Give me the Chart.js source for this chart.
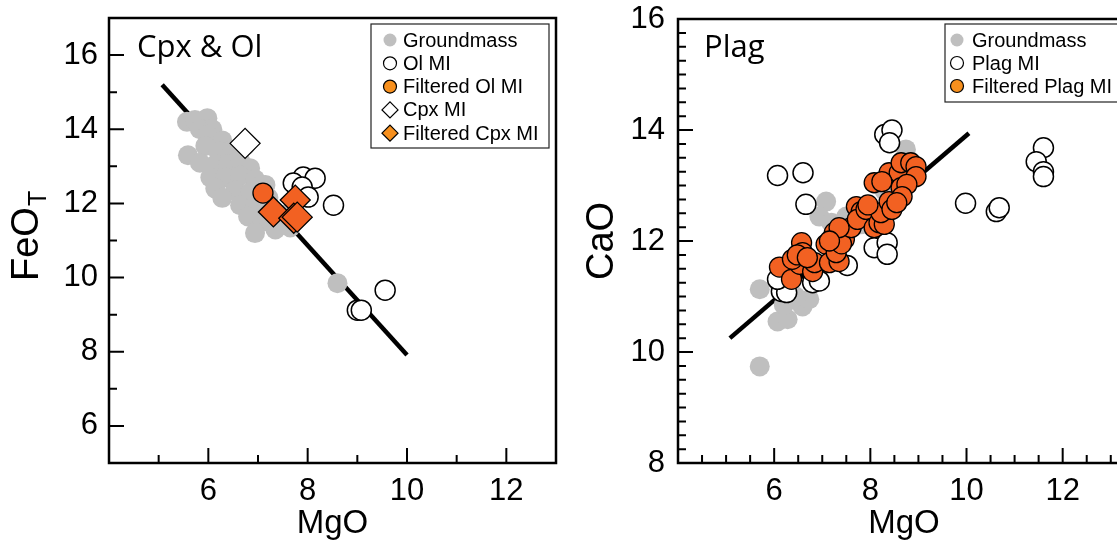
<!DOCTYPE html>
<html>
<head>
<meta charset="utf-8">
<script src="https://cdn.jsdelivr.net/npm/chart.js@4.4.1/dist/chart.umd.min.js"></script>
<style>
  html, body { margin: 0; padding: 0; background: #fff; overflow: hidden; }
  body { width: 1117px; height: 544px; position: relative; }
  canvas { position: absolute; top: 0; }
  #cpx { left: 0; }
  #plag { left: 580px; }
</style>
</head>
<body>
<canvas id="cpx" width="560" height="544"></canvas>
<canvas id="plag" width="554" height="544"></canvas>
<script>
// ---- Cpx & Ol panel: MgO vs FeO_T (wt%) ----
const cpxGroundmass = [
  [5.57, 14.2], [5.98, 14.3], [5.59, 13.3], [5.73, 14.25], [5.83, 14.0], [6.08, 14.0],
  [5.98, 13.85], [6.28, 13.7], [5.94, 13.55], [6.2, 13.4], [6.48, 13.45], [6.74, 13.55],
  [5.83, 13.1], [6.14, 13.05], [6.4, 13.05], [6.64, 13.15], [6.84, 12.95], [6.04, 12.7],
  [6.34, 12.7], [6.64, 12.75], [6.94, 12.65], [7.15, 12.5], [7.08, 12.5], [6.14, 12.4],
  [6.54, 12.35], [6.84, 12.3], [7.21, 12.15], [6.28, 12.15], [6.64, 11.95], [6.94, 11.95],
  [7.25, 11.8], [6.8, 11.65], [7.08, 11.5], [7.55, 11.7], [7.35, 11.3], [6.94, 11.2],
  [7.65, 11.35], [8.6, 9.85]
];
const olMI = [
  [7.91, 12.71], [8.15, 12.68], [7.71, 12.55], [7.89, 12.44], [8.01, 12.17], [8.52, 11.95],
  [9.56, 9.66], [9.0, 9.12], [9.08, 9.12]
];
const olMIFiltered = [[7.1, 12.28]];
const cpxMI = [[6.74, 13.62]];
const cpxMIFiltered = [[7.31, 11.77], [7.75, 12.09], [7.72, 11.6], [7.79, 11.63]];
const feTrend = [[5.07, 15.2], [10.0, 7.91]];

// ---- Plag panel: MgO vs CaO (wt%) ----
const plagGroundmass = [
  [5.7, 11.13], [5.7, 9.74], [6.07, 10.55], [6.28, 10.59], [6.59, 10.82], [6.73, 10.95],
  [6.07, 11.27], [6.45, 11.0], [6.2, 10.85], [7.08, 12.71], [7.5, 12.44], [6.94, 12.44],
  [7.19, 12.33], [7.62, 12.39], [8.74, 13.65], [7.8, 12.3], [8.3, 12.9], [7.35, 12.05]
];
const plagMI = [
  [6.07, 13.18], [6.6, 13.23], [6.66, 12.66], [8.3, 13.92], [8.45, 14.0], [8.4, 13.77],
  [9.98, 12.68], [10.62, 12.53], [10.68, 12.6], [11.6, 13.68], [11.45, 13.43], [11.6, 13.25],
  [11.6, 13.16], [8.08, 11.88], [8.35, 11.97], [8.35, 11.76], [7.52, 11.56], [6.8, 11.25],
  [6.15, 11.09], [6.26, 11.07], [6.07, 11.31], [6.94, 11.28]
];
const plagMIFiltered = [
  [6.11, 11.53], [6.36, 11.31], [6.53, 11.58], [6.38, 11.67], [6.57, 11.97], [6.59, 11.79],
  [6.8, 11.45], [6.84, 11.61], [6.48, 11.75], [6.69, 11.7], [7.08, 11.94], [7.15, 11.61],
  [7.35, 11.63], [7.29, 11.79], [7.25, 12.15], [7.46, 12.03], [7.4, 11.95], [7.6, 12.24],
  [7.35, 12.24], [7.15, 12.0], [7.71, 12.62], [7.81, 12.53], [7.73, 12.39], [7.91, 12.57],
  [8.08, 12.24], [8.18, 12.33], [8.29, 12.3], [8.22, 12.51], [8.39, 12.71], [8.45, 12.57],
  [8.08, 13.05], [8.39, 13.23], [8.6, 13.23], [8.64, 13.41], [8.84, 13.41], [8.95, 13.34],
  [8.95, 13.16], [8.64, 12.96], [8.76, 13.02], [8.66, 12.8], [8.55, 12.69], [8.24, 13.07],
  [7.95, 12.65]
];
const caTrend = [[5.08, 10.25], [10.05, 13.94]];

// tick labels
const mgoLabels = [6, 8, 10, 12];
const feoLabels = [6, 8, 10, 12, 14, 16];
const caoLabels = [8, 10, 12, 14, 16];

const GRAY = '#bfbfbf';
const ORANGE = '#f26122';
const ORANGE_KEY = '#f7901e';
const TICK_FONT = { family: '"Liberation Sans", Arial, sans-serif', size: 31 };

// frame, inward tick marks, panel label, inset legend and (optionally) a subscripted y title
const panelDecor = {
  id: 'panelDecor',
  afterDraw(chart, args, o) {
    const { ctx, chartArea: a, scales: { x, y } } = chart;
    ctx.save();

    ctx.strokeStyle = '#000';
    ctx.lineWidth = 2.5;
    ctx.strokeRect(a.left, a.top, a.right - a.left, a.bottom - a.top);

    ctx.lineWidth = 2;
    ctx.beginPath();
    for (let v = x.min + o.xStep; v < x.max - 1e-6; v += o.xStep) {
      const val = Math.round(v * 100) / 100;
      const px = x.getPixelForValue(val);
      const len = o.xMajor.includes(val) ? 15 : 8;
      ctx.moveTo(px, a.bottom);
      ctx.lineTo(px, a.bottom - len);
    }
    for (let v = y.min + o.yStep; v < y.max - 1e-6; v += o.yStep) {
      const val = Math.round(v * 100) / 100;
      const py = y.getPixelForValue(val);
      const len = o.yMajor.includes(val) ? 15 : 8;
      ctx.moveTo(a.left, py);
      ctx.lineTo(a.left + len, py);
    }
    ctx.stroke();

    // panel label
    ctx.fillStyle = '#000';
    ctx.font = '31px "Open Sans", sans-serif';
    ctx.textBaseline = 'alphabetic';
    ctx.textAlign = 'left';
    ctx.fillText(o.label, a.left + o.labelX, a.top + o.labelY);

    // inset legend
    const L = o.legend;
    const bx = a.left + L.x, by = a.top + L.y;
    ctx.fillStyle = '#fff';
    ctx.fillRect(bx, by, L.w, L.h);
    ctx.strokeStyle = '#222';
    ctx.lineWidth = 1.2;
    ctx.strokeRect(bx, by, L.w, L.h);
    ctx.font = '20px "Liberation Sans", Arial, sans-serif';
    ctx.textBaseline = 'middle';
    chart.data.datasets.filter(d => d.label).forEach((d, i) => {
      const cy = by + L.row0 + i * L.gap;
      ctx.fillStyle = d.keyColor || d.backgroundColor;
      ctx.strokeStyle = '#000';
      Chart.helpers.drawPoint(ctx, {
        pointStyle: d.pointStyle,
        radius: d.pointStyle === 'rectRot' ? 8 : 6.5,
        borderWidth: d.borderWidth ? 1 : 0
      }, bx + L.mark, cy);
      ctx.fillStyle = '#000';
      ctx.fillText(d.label, bx + L.text, cy + 1);
    });

    // FeO with subscript T, rotated
    if (o.yTitle) {
      const t = o.yTitle;
      ctx.translate(t.x, t.y);
      ctx.rotate(-Math.PI / 2);
      ctx.textBaseline = 'alphabetic';
      ctx.font = '38px "Liberation Sans", Arial, sans-serif';
      ctx.fillText(t.main, 0, 0);
      const w = ctx.measureText(t.main).width;
      ctx.font = '25px "Liberation Sans", Arial, sans-serif';
      ctx.fillText(t.sub, w + 1, 8);
    }
    ctx.restore();
  }
};

function xAxis(min, max, labels) {
  return {
    type: 'linear', min, max,
    afterBuildTicks: s => { s.ticks = labels.map(v => ({ value: v })); },
    afterFit: s => { s.height = 81; s.paddingLeft = 0; s.paddingRight = 0; },
    grid: { display: false, drawTicks: false },
    border: { display: false },
    ticks: { color: '#000', font: TICK_FONT, padding: 10, maxRotation: 0 },
    title: { display: true, text: 'MgO', color: '#000', padding: 0,
      font: { family: TICK_FONT.family, size: 33 } }
  };
}

function yAxis(min, max, labels, width, pad, title) {
  return {
    type: 'linear', min, max,
    afterBuildTicks: s => { s.ticks = labels.map(v => ({ value: v })); },
    afterFit: s => { s.width = width; s.paddingTop = 0; s.paddingBottom = 0; },
    grid: { display: false, drawTicks: false },
    border: { display: false },
    ticks: { color: '#000', font: TICK_FONT, padding: pad },
    title: title
      ? { display: true, text: title, color: '#000', padding: 0,
          font: { family: TICK_FONT.family, size: 38 } }
      : { display: false }
  };
}

function pointSet(label, data, style, fill, radius, order, extra) {
  return Object.assign({
    label, data, pointStyle: style, pointRadius: radius, pointHoverRadius: radius,
    backgroundColor: fill, borderColor: '#000', borderWidth: 1.3, order
  }, extra || {});
}

function trendLine(data) {
  return {
    label: '', data, showLine: true, borderColor: '#000', borderWidth: 4.5,
    pointRadius: 0, order: 9, borderCapStyle: 'butt'
  };
}

const common = {
  responsive: false,
  animation: false,
  events: [],
  plugins: { legend: { display: false }, tooltip: { enabled: false } }
};

new Chart(document.getElementById('cpx'), {
  type: 'scatter',
  data: {
    datasets: [
      pointSet('Groundmass', cpxGroundmass, 'circle', GRAY, 10, 6, { borderWidth: 0 }),
      pointSet('Ol MI', olMI, 'circle', '#fff', 10, 4, { borderWidth: 1.5 }),
      pointSet('Filtered Ol MI', olMIFiltered, 'circle', ORANGE, 10, 2, { keyColor: ORANGE_KEY }),
      pointSet('Cpx MI', cpxMI, 'rectRot', '#fff', 15, 3),
      pointSet('Filtered Cpx MI', cpxMIFiltered, 'rectRot', ORANGE, 15, 1, { keyColor: ORANGE_KEY }),
      trendLine(feTrend)
    ]
  },
  options: Object.assign({}, common, {
    layout: { autoPadding: false, padding: { top: 18, right: 4, left: 0, bottom: 0 } },
    scales: {
      x: xAxis(4, 13, mgoLabels),
      y: yAxis(5, 17, feoLabels, 109, 11, null)
    },
    plugins: Object.assign({}, common.plugins, {
      panelDecor: {
        xStep: 1, yStep: 1, xMajor: mgoLabels, yMajor: feoLabels,
        label: 'Cpx & Ol', labelX: 28, labelY: 39,
        legend: { x: 262, y: 6, w: 178, h: 124, row0: 16, gap: 23.3, mark: 19, text: 32 },
        yTitle: { main: 'FeO', sub: 'T', x: 38, y: 281 }
      }
    })
  }),
  plugins: [panelDecor]
});

new Chart(document.getElementById('plag'), {
  type: 'scatter',
  data: {
    datasets: [
      pointSet('Groundmass', plagGroundmass, 'circle', GRAY, 10, 6, { borderWidth: 0 }),
      pointSet('Plag MI', plagMI, 'circle', '#fff', 10, 4, { borderWidth: 1.5 }),
      pointSet('Filtered Plag MI', plagMIFiltered, 'circle', ORANGE, 10, 2, { keyColor: ORANGE_KEY }),
      trendLine(caTrend)
    ]
  },
  options: Object.assign({}, common, {
    layout: { autoPadding: false, padding: { top: 19, right: 4, left: 0, bottom: 0 } },
    scales: {
      x: xAxis(4, 13.4, mgoLabels),
      y: yAxis(8, 16, caoLabels, 98, 13, 'CaO')
    },
    plugins: Object.assign({}, common.plugins, {
      panelDecor: {
        xStep: 0.5, yStep: 0.25, xMajor: mgoLabels, yMajor: caoLabels,
        label: 'Plag', labelX: 26, labelY: 38,
        legend: { x: 267, y: 5, w: 178, h: 78, row0: 16, gap: 23, mark: 12, text: 27 }
      }
    })
  }),
  plugins: [panelDecor]
});
</script>
</body>
</html>
